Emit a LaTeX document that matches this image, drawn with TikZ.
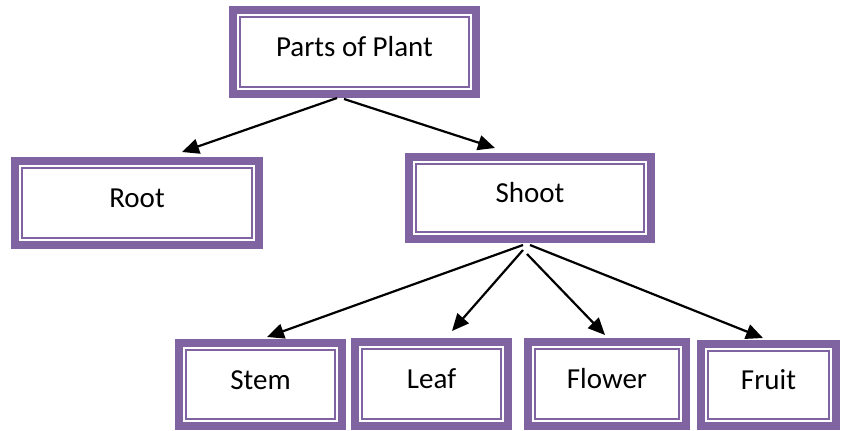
\documentclass[tikz,border=0pt]{standalone}
\usepackage{fontspec}
\setmainfont{Carlito}
\usetikzlibrary{arrows.meta}
\definecolor{pur}{HTML}{8064A2}
\tikzset{
  pbox/.style={draw=pur, line width=8pt, fill=white, inner sep=0pt,
    font=\fontsize{29}{34}\selectfont, text height=20pt, text depth=10.5pt},
  arr/.style={draw=black, line width=2.2pt, -{Triangle[length=17pt,width=15pt]}},
}
\newcommand{\innerframe}[1]{%
  \draw[pur, line width=2pt] ([xshift=11pt,yshift=-11pt]#1.north west) rectangle ([xshift=-11pt,yshift=11pt]#1.south east);}
\begin{document}
\begin{tikzpicture}[x=1pt,y=-1pt]
\useasboundingbox[fill=white] (0,0) rectangle (841,431);
\node[pbox, minimum width=243pt, minimum height=84pt] (plant) at (354.5,52) {Parts of Plant};
\node[pbox, minimum width=244pt, minimum height=84pt] (root) at (137,203) {Root};
\node[pbox, minimum width=242pt, minimum height=82pt] (shoot) at (530,198) {Shoot};
\node[pbox, minimum width=163pt, minimum height=83pt] (stem) at (260.5,384.5) {Stem};
\node[pbox, minimum width=153pt, minimum height=84pt] (leaf) at (431.5,384) {Leaf};
\node[pbox, minimum width=158pt, minimum height=84pt] (flower) at (607,384) {Flower};
\node[pbox, minimum width=135pt, minimum height=82pt] (fruit) at (768.5,385) {Fruit};
\foreach \n in {plant,root,shoot,stem,leaf,flower,fruit} {\innerframe{\n}}
\draw[arr] ([xshift=-17.5pt]plant.south) -- ([xshift=45pt,yshift=5pt]root.north);
\draw[arr] ([xshift=-10.5pt,yshift=-1pt]plant.south) -- ([xshift=-35pt,yshift=5pt]shoot.north);
\draw[arr] ([xshift=-7pt,yshift=-2pt]shoot.south) -- ([xshift=6.5pt,yshift=2pt]stem.north);
\draw[arr] ([xshift=-7pt,yshift=-7pt]shoot.south) -- ([xshift=20.5pt,yshift=7pt]leaf.north);
\draw[arr] ([xshift=-3pt,yshift=-11pt]shoot.south) -- ([xshift=-2pt,yshift=3pt]flower.north);
\draw[arr] ([xshift=0pt,yshift=-2pt]shoot.south) -- ([xshift=-5.5pt,yshift=2pt]fruit.north);
\end{tikzpicture}
\end{document}
